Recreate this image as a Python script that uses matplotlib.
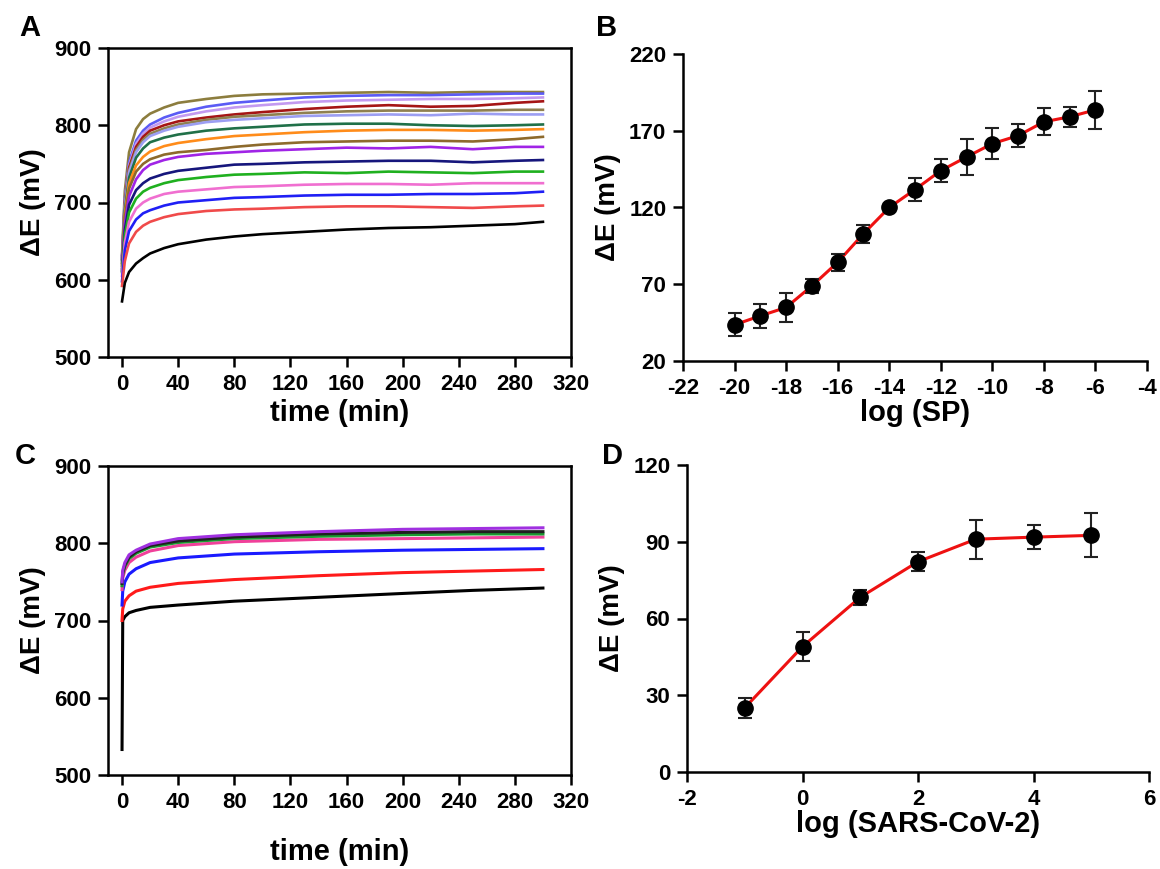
import matplotlib
matplotlib.use("Agg")
import matplotlib.pyplot as plt

plt.rcParams['font.family'] = ['Liberation Sans', 'DejaVu Sans']
plt.rcParams['axes.unicode_minus'] = False

# ---- panel A: potential vs time, SP concentrations ----
t_a = [0, 2, 5, 10, 15, 20, 30, 40, 60, 80, 100, 130, 160, 190, 220, 250, 280, 300]
curves_a = {
    '#8c7d3e': [632, 715, 765, 795, 808, 815, 823, 829, 834, 838, 840, 841, 842, 843, 842, 843, 843, 843],
    '#5b5bf5': [630, 705, 752, 780, 793, 801, 810, 816, 824, 829, 832, 836, 838, 839, 839, 840, 841, 841],
    '#c39af0': [628, 702, 748, 776, 789, 797, 805, 811, 818, 823, 826, 830, 832, 833, 834, 834, 835, 836],
    '#a51515': [627, 700, 745, 772, 785, 793, 800, 805, 810, 814, 817, 821, 824, 826, 824, 825, 829, 831],
    '#8f8050': [626, 698, 742, 768, 781, 789, 796, 801, 807, 811, 813, 816, 818, 819, 819, 819, 820, 820],
    '#9c9ef2': [625, 695, 739, 765, 778, 786, 793, 798, 804, 807, 809, 812, 813, 814, 813, 815, 814, 814],
    '#207048': [622, 690, 732, 758, 770, 778, 784, 788, 793, 796, 798, 801, 802, 802, 800, 799, 800, 801],
    '#ff8c1a': [620, 685, 725, 748, 759, 766, 773, 777, 782, 786, 788, 791, 793, 794, 794, 793, 794, 795],
    '#8d6a2c': [618, 680, 718, 740, 750, 756, 762, 765, 768, 772, 775, 778, 779, 780, 780, 779, 782, 785],
    '#a024e6': [615, 672, 708, 730, 742, 749, 755, 759, 763, 765, 767, 769, 771, 770, 772, 769, 772, 772],
    '#16167c': [612, 664, 697, 716, 725, 731, 737, 741, 745, 749, 750, 752, 753, 754, 754, 752, 754, 755],
    '#1fb01f': [610, 657, 687, 705, 714, 719, 725, 729, 733, 736, 737, 739, 738, 740, 739, 738, 740, 740],
    '#f06fd0': [605, 648, 675, 692, 700, 705, 711, 714, 717, 720, 721, 723, 724, 724, 723, 725, 725, 725],
    '#1f1ff5': [598, 638, 663, 678, 686, 690, 696, 700, 703, 706, 707, 709, 710, 710, 711, 711, 712, 714],
    '#f04a4a': [592, 624, 647, 662, 670, 675, 681, 685, 689, 691, 692, 694, 695, 695, 694, 693, 695, 696],
    '#000000': [572, 596, 610, 621, 628, 634, 641, 646, 652, 656, 659, 662, 665, 667, 668, 670, 672, 675],
}

# ---- panel C: potential vs time, SARS-CoV-2 ----
t_c = [0, 0.5, 2, 5, 10, 20, 40, 80, 140, 200, 250, 300]
curves_c = {
    '#000000': [533, 700, 705, 710, 713, 717, 720, 725, 730, 735, 739, 742],
    '#ff1a1a': [700, 715, 725, 732, 738, 743, 748, 753, 758, 762, 764, 766],
    '#1a1aff': [720, 738, 750, 760, 767, 775, 781, 786, 789, 791, 792, 793],
    '#f0409a': [740, 755, 765, 775, 782, 790, 797, 802, 805, 806, 807, 808],
    '#1a9a30': [745, 760, 770, 780, 787, 795, 801, 806, 809, 811, 812, 812],
    '#202020': [748, 762, 772, 782, 789, 797, 803, 808, 812, 814, 815, 815],
    '#a030e0': [750, 765, 775, 785, 791, 799, 806, 811, 815, 818, 819, 820],
}

# ---- panel B: calibration vs log(SP) ----
log_sp = [-20, -19, -18, -17, -16, -15, -14, -13, -12, -11, -10, -9, -8, -7, -6]
de_sp = [43.6, 49.4, 54.9, 68.9, 84.3, 102.9, 120.0, 131.7, 144.0, 152.9,
         161.6, 166.8, 175.8, 179.1, 183.6]
err_sp = [7.5, 7.9, 9.5, 4.3, 5.7, 6.0, 1.5, 7.3, 7.5, 11.8, 10.0, 7.3, 8.7, 6.4, 12.6]

# ---- panel D: calibration vs log(SARS-CoV-2) ----
log_cov = [-1, 0, 1, 2, 3, 4, 5]
de_cov = [25.1, 49.0, 68.3, 82.2, 91.0, 91.8, 92.5]
err_cov = [4.0, 5.6, 3.0, 3.8, 7.6, 4.7, 8.6]

W, H = 1160, 869
fig = plt.figure(figsize=(W / 100, H / 100), dpi=100)


def ax_at(l, t, r, b):
    return fig.add_axes([l / W, 1 - b / H, (r - l) / W, (b - t) / H])


def style(ax, box=True):
    for s in ax.spines.values():
        s.set_linewidth(1.8)
    if not box:
        ax.spines['top'].set_visible(False)
        ax.spines['right'].set_visible(False)
    ax.tick_params(direction='out', length=7, width=1.8, labelsize=16, pad=5)
    for lab in ax.get_xticklabels() + ax.get_yticklabels():
        lab.set_fontweight('bold')


def labels(ax, xl, pad):
    ax.set_xlabel(xl, fontsize=21, fontweight='bold', labelpad=pad)
    ax.set_ylabel('ΔE (mV)', fontsize=20, fontweight='bold', labelpad=6)


axA = ax_at(108, 48, 571, 357)
for c, v in curves_a.items():
    axA.plot(t_a, v, color=c, lw=1.9)
axA.set_xlim(-10, 320)
axA.set_ylim(500, 900)
axA.set_xticks(range(0, 321, 40))
axA.set_yticks(range(500, 901, 100))
style(axA)
labels(axA, 'time (min)', 3)

axC = ax_at(108, 466, 571, 775)
for c, v in curves_c.items():
    axC.plot(t_c, v, color=c, lw=2.2)
axC.set_xlim(-10, 320)
axC.set_ylim(500, 900)
axC.set_xticks(range(0, 321, 40))
axC.set_yticks(range(500, 901, 100))
style(axC)
labels(axC, 'time (min)', 18)

axB = ax_at(683, 54, 1147, 361)
axB.plot(log_sp, de_sp, color='#ee1111', lw=2.2, zorder=2)
axB.errorbar(log_sp, de_sp, yerr=err_sp, fmt='o', color='black', ms=11,
             ecolor='#222222', elinewidth=1.5, capsize=5, capthick=1.5, zorder=3)
axB.set_xlim(-22, -4)
axB.set_ylim(20, 220)
axB.set_xticks(range(-22, -3, 2))
axB.set_yticks(range(20, 221, 50))
style(axB, box=False)
labels(axB, 'log (SP)', 0)

axD = ax_at(687, 465, 1149, 772)
axD.plot(log_cov, de_cov, color='#ee1111', lw=2.2, zorder=2)
axD.errorbar(log_cov, de_cov, yerr=err_cov, fmt='o', color='black', ms=11,
             ecolor='#222222', elinewidth=1.5, capsize=5, capthick=1.5, zorder=3)
axD.set_xlim(-2, 6)
axD.set_ylim(0, 120)
axD.set_xticks(range(-2, 7, 2))
axD.set_yticks(range(0, 121, 30))
style(axD, box=False)
labels(axD, 'log (SARS-CoV-2)', 0)

for letter, x, y in [('A', 30, 28), ('B', 607, 28), ('C', 25, 456), ('D', 612, 456)]:
    fig.text(x / W, 1 - y / H, letter, fontsize=21, fontweight='bold',
             ha='center', va='center')

fig.savefig('out.png', dpi=100)
